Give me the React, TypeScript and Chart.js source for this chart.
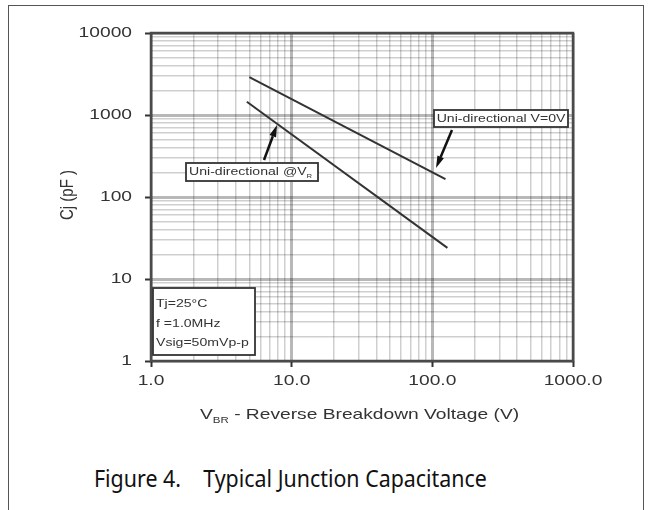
import React, { useEffect, useRef } from 'react';
import { Chart, registerables } from 'chart.js';

Chart.register(...registerables);

// ---- data ----
const xDecades = [1, 10, 100, 1000];
const xTickLabels = ['1.0', '10.0', '100.0', '1000.0'];
const yDecades = [1, 10, 100, 1000, 10000];
const yTickLabels = ['1', '10', '100', '1000', '10000'];
const minorSteps = [2, 3, 4, 5, 6, 7, 8, 9];

const seriesNames = ['Uni-directional V=0V', 'Uni-directional @V'];
const v0Voltage = [5, 124];
const v0Cap = [2900, 165];
const vrVoltage = [4.8, 128];
const vrCap = [1450, 24];

const conditions = ['Tj=25°C', 'f =1.0MHz', 'Vsig=50mVp-p'];
const yTitle = 'Cj (pF )';
const xTitleMain = 'V';
const xTitleSub = 'BR';
const xTitleRest = ' - Reverse Breakdown Voltage (V)';
const caption = 'Figure 4.    Typical Junction Capacitance';

// ---- helpers ----
const FONT = '"Liberation Sans", Arial, sans-serif';
const SX = 1.28;
const TEXT = '#333';

function buildTicks(decades: number[]) {
  const out: { value: number }[] = [];
  decades.forEach((d, i) => {
    out.push({ value: d });
    if (i < decades.length - 1) minorSteps.forEach((m) => out.push({ value: d * m }));
  });
  return out;
}

function isMajor(v: number, decades: number[]) {
  return decades.some((d) => Math.abs(d - v) < 1e-9);
}

function sText(ctx: CanvasRenderingContext2D, text: string, x: number, y: number, align: CanvasTextAlign, size: number, baseline: CanvasTextBaseline = 'middle') {
  ctx.save();
  ctx.font = `${size}px ${FONT}`;
  ctx.textAlign = align;
  ctx.textBaseline = baseline;
  ctx.fillStyle = TEXT;
  ctx.translate(x, y);
  ctx.scale(SX, 1);
  ctx.fillText(text, 0, 0);
  ctx.restore();
}

function arrow(ctx: CanvasRenderingContext2D, x1: number, y1: number, x2: number, y2: number) {
  const ang = Math.atan2(y2 - y1, x2 - x1);
  const hl = 12;
  const hw = 3.5;
  const bx = x2 - hl * Math.cos(ang);
  const by = y2 - hl * Math.sin(ang);
  ctx.save();
  ctx.strokeStyle = '#111';
  ctx.fillStyle = '#111';
  ctx.lineWidth = 2.5;
  ctx.beginPath();
  ctx.moveTo(x1, y1);
  ctx.lineTo(bx, by);
  ctx.stroke();
  ctx.beginPath();
  ctx.moveTo(x2, y2);
  ctx.lineTo(bx + hw * Math.sin(ang), by - hw * Math.cos(ang));
  ctx.lineTo(bx - hw * Math.sin(ang), by + hw * Math.cos(ang));
  ctx.closePath();
  ctx.fill();
  ctx.restore();
}

function box(ctx: CanvasRenderingContext2D, x: number, y: number, w: number, h: number) {
  ctx.save();
  ctx.fillStyle = '#fff';
  ctx.fillRect(x, y, w, h);
  ctx.strokeStyle = '#333';
  ctx.lineWidth = 1.8;
  ctx.strokeRect(x, y, w, h);
  ctx.restore();
}

const decorPlugin = {
  id: 'decor',
  afterDraw(chart: any) {
    const ctx: CanvasRenderingContext2D = chart.ctx;
    const { left, right, top, bottom } = chart.chartArea;
    const xs = chart.scales.x;
    const ys = chart.scales.y;

    // plot frame
    ctx.save();
    ctx.strokeStyle = '#4a4a4a';
    ctx.lineWidth = 2.5;
    ctx.strokeRect(left, top, right - left, bottom - top);
    ctx.restore();

    // tick labels
    yDecades.forEach((v, i) => {
      sText(ctx, yTickLabels[i], left - 19, ys.getPixelForValue(v), 'right', 15);
    });
    xDecades.forEach((v, i) => {
      sText(ctx, xTickLabels[i], xs.getPixelForValue(v), bottom + 20, 'center', 15);
    });

    // y title (rotated)
    ctx.save();
    ctx.font = `15px ${FONT}`;
    ctx.fillStyle = TEXT;
    ctx.textAlign = 'center';
    ctx.textBaseline = 'middle';
    ctx.translate(left - 83, (top + bottom) / 2 - 2);
    ctx.rotate(-Math.PI / 2);
    ctx.scale(1, SX);
    ctx.fillText(yTitle, 0, 0);
    ctx.restore();

    // x title with subscript
    ctx.save();
    ctx.fillStyle = TEXT;
    ctx.textBaseline = 'alphabetic';
    ctx.translate(left + 49, bottom + 58);
    ctx.scale(SX, 1);
    ctx.font = `15px ${FONT}`;
    ctx.fillText(xTitleMain, 0, 0);
    let w = ctx.measureText(xTitleMain).width;
    ctx.font = `9px ${FONT}`;
    ctx.fillText(xTitleSub, w, 4);
    w += ctx.measureText(xTitleSub).width;
    ctx.font = `15px ${FONT}`;
    ctx.fillText(xTitleRest, w, 0);
    ctx.restore();

    // annotation: V=0V
    box(ctx, left + 283, top + 77, 134, 17);
    sText(ctx, seriesNames[0], left + 350, top + 86, 'center', 11);
    arrow(ctx, left + 301, top + 97, left + 285, top + 135);

    // annotation: @VR
    box(ctx, left + 35, top + 130, 132, 18);
    ctx.save();
    ctx.fillStyle = TEXT;
    ctx.textBaseline = 'middle';
    ctx.translate(left + 38, top + 139);
    ctx.scale(SX, 1);
    ctx.font = `11px ${FONT}`;
    ctx.fillText(seriesNames[1], 0, 0);
    const w2 = ctx.measureText(seriesNames[1]).width;
    ctx.font = `6px ${FONT}`;
    ctx.fillText('R', w2, 4);
    ctx.restore();
    arrow(ctx, left + 113, top + 127, left + 126, top + 92);

    // conditions box
    box(ctx, left + 2, bottom - 73, 102, 67);
    conditions.forEach((c, i) => {
      sText(ctx, c, left + 5, bottom - 57 + i * 19.5, 'left', 11);
    });
  },
};

export default function App() {
  const ref = useRef<HTMLCanvasElement | null>(null);

  useEffect(() => {
    if (!ref.current) return;
    const xTicks = buildTicks(xDecades);
    const yTicks = buildTicks(yDecades);
    const gridOpts = (decades: number[]) => ({
      color: (c: any) => (c.tick && isMajor(c.tick.value, decades) ? 'rgba(0,0,0,0.28)' : 'rgba(0,0,0,0.19)'),
      lineWidth: (c: any) => (c.tick && isMajor(c.tick.value, decades) ? 3 : 1.5),
      tickColor: (c: any) => (c.tick && isMajor(c.tick.value, decades) ? '#333' : 'rgba(0,0,0,0)'),
      tickLength: 6,
      tickWidth: 2,
      drawTicks: true,
    });
    const chart = new Chart(ref.current, {
      type: 'scatter',
      data: {
        datasets: [
          {
            label: seriesNames[0],
            data: v0Voltage.map((x, i) => ({ x, y: v0Cap[i] })),
            showLine: true,
            borderColor: '#333',
            borderWidth: 2,
            pointRadius: 0,
          },
          {
            label: seriesNames[1],
            data: vrVoltage.map((x, i) => ({ x, y: vrCap[i] })),
            showLine: true,
            borderColor: '#333',
            borderWidth: 2,
            pointRadius: 0,
          },
        ],
      },
      options: {
        animation: false,
        responsive: false,
        events: [],
        layout: { padding: { left: 0, top: 33, right: 80, bottom: 0 } },
        plugins: { legend: { display: false }, tooltip: { enabled: false } },
        scales: {
          x: {
            type: 'logarithmic',
            min: 1,
            max: 1000,
            afterBuildTicks: (s: any) => { s.ticks = xTicks.map((t) => ({ ...t })); },
            afterFit: (s: any) => { s.height = 79; },
            ticks: { display: false },
            grid: gridOpts(xDecades),
            border: { display: false },
          },
          y: {
            type: 'logarithmic',
            min: 1,
            max: 10000,
            afterBuildTicks: (s: any) => { s.ticks = yTicks.map((t) => ({ ...t })); },
            afterFit: (s: any) => { s.width = 151; },
            ticks: { display: false },
            grid: gridOpts(yDecades),
            border: { display: false },
          },
        },
      },
      plugins: [decorPlugin],
    });
    return () => chart.destroy();
  }, []);

  return (
    <div style={{ position: 'absolute', left: 0, top: 0, width: 653, height: 510, overflow: 'hidden', background: '#fff' }}>
      <div style={{ position: 'absolute', left: 8, top: 5, width: 636, height: 600, border: '1.5px solid #555', boxSizing: 'border-box' }} />
      <canvas ref={ref} width={653} height={440} style={{ position: 'absolute', left: 0, top: 0, width: 653, height: 440 }} />
      <div style={{ position: 'absolute', left: 94, top: 462, fontFamily: '"Noto Sans", "Open Sans", sans-serif', fontSize: 23, color: '#111', whiteSpace: 'pre', lineHeight: 'normal', transform: 'scaleX(0.93)', transformOrigin: 'left top' }}>
        {caption}
      </div>
    </div>
  );
}
